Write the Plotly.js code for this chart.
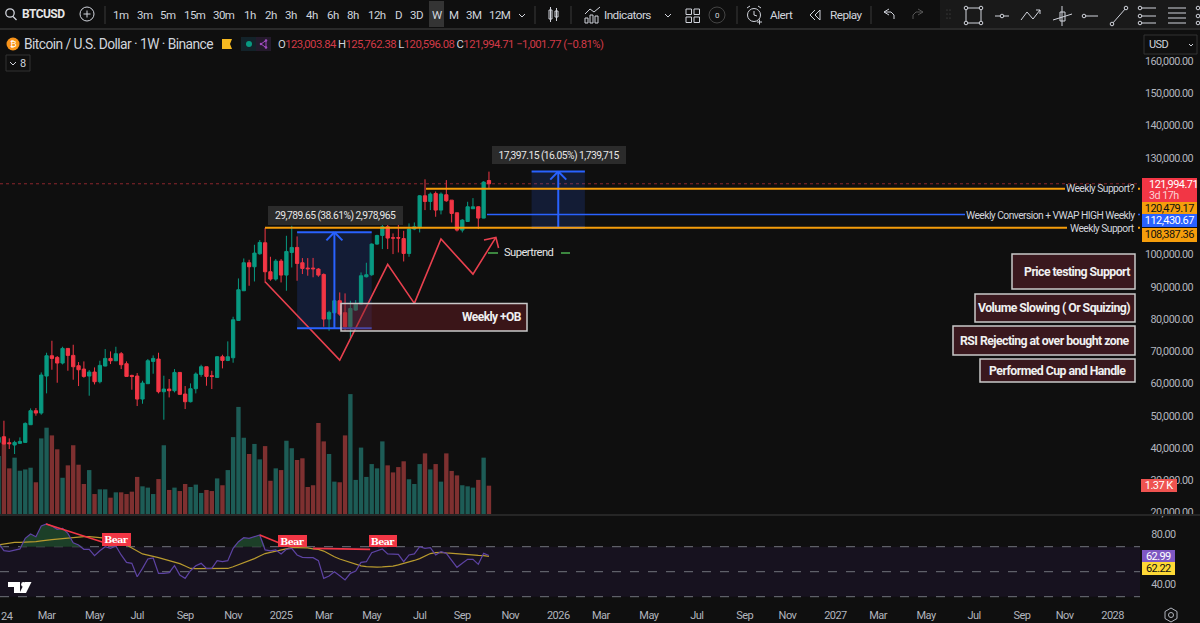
<!DOCTYPE html>
<html><head><meta charset="utf-8">
<script src="https://cdn.plot.ly/plotly-3.0.1.min.js"></script>
<style>html,body{margin:0;padding:0;background:#0f0f0f;overflow:hidden}#c{width:1200px;height:623px}text{letter-spacing:-.55px}</style>
</head><body><div id="c"></div><script>
const open_=[41800,43560,41700,40980,41500,41800,47280,51620,50900,62370,68670,68150,66400,70940,68780,65570,64540,62370,63610,60610,65470,67840,67120,69290,66190,62570,62370,55240,60000,66910,67640,57510,58340,57820,63500,56790,54410,58440,62880,65260,62470,61950,68360,67220,68050,79620,88820,97500,96260,100290,103700,94710,92440,98020,93680,100700,102250,97500,95850,95850,95540,93880,80040,82000,85720,82000,77660,82820,84690,93160,93780,103290,105970,108660,105250,105300,105000,100390,107940,108450,118270,116510,119000,113830,118580,116920,113000,107630,110300,114250,114860,111350,123003.84];
const high_=[43700,48520,43040,42320,43350,48000,52340,52450,63500,69600,73320,68570,71460,71000,72080,66710,66910,64230,65050,67120,70740,70010,71460,69810,66910,62780,63300,60920,67640,68770,69600,62470,61440,64540,63600,59270,60100,63500,65880,65300,64020,68500,68980,73120,80760,92640,98840,98430,103080,104530,108300,99360,98640,98640,105870,108970,105660,98950,98950,99000,95850,94200,82620,88300,88300,88000,85720,85930,94500,97500,103500,106180,111040,110000,106600,110000,107400,109700,110000,118500,123370,119300,119600,119300,123130,116900,113000,111040,116410,117550,115000,122800,125762.38];
const low_=[41300,41200,39740,38190,41400,41700,47200,50070,50380,57000,64330,60300,65980,64020,61230,59270,61850,56270,59780,60100,65400,66090,67000,64540,62200,58130,53070,53790,59900,63090,57000,48830,55750,57300,56600,52140,54200,57000,62160,59370,58340,61900,64740,67000,66500,79500,88800,90370,91700,100000,91400,91920,91920,91400,88820,96050,91920,94000,93470,93000,93160,77660,76420,81590,81070,76420,74150,82620,84480,92950,93470,103080,101740,101740,100190,100700,97900,99360,107600,106900,113830,113830,111760,112500,116400,110000,107200,106900,110300,114200,107940,111300,120596.08];
const close_=[43350,41290,41400,41800,42100,47690,51620,50900,62680,68670,67840,66400,70940,68780,65260,64330,62260,63610,60610,65680,67840,67120,69290,65880,62260,62260,55240,60200,67120,67840,57510,58340,57820,63500,56690,54410,58440,62990,65260,62260,62260,68360,67220,68360,79830,89130,97500,96260,100500,103800,94710,92440,98020,93680,101010,102250,97290,95740,95640,95640,93680,80040,82100,85720,81590,77660,83340,84690,93470,93780,103290,105970,108660,105150,105150,105150,100390,107940,108660,118270,116510,118790,113830,118790,116720,112790,107630,110730,114860,114860,111350,122510,121994.71];
const volumeK=[2.76,3.43,2.18,2.68,2.07,2.13,2.21,1.53,3.58,4.08,3.72,3.07,1.74,2.32,3.26,2.35,1.45,2.10,0.98,1.2,1.2,0.81,1.06,1.06,0.98,1.09,1.78,1.34,1.28,0.98,1.68,3.26,1.17,1.28,1.12,1.45,1.31,1.42,1.03,1.17,1.12,1.71,1.39,2.10,3.64,5.05,3.61,2.85,3.32,2.60,3.22,1.60,2.18,2.10,3.47,3.12,2.57,2.65,1.31,1.39,4.30,3.44,2.85,1.56,1.53,3.72,5.65,1.64,3.15,1.78,2.38,2.18,3.44,2.32,1.99,2.24,2.51,1.67,1.45,2.38,2.88,2.13,2.38,1.56,2.88,2.06,1.85,1.39,1.34,1.28,1.64,2.68,1.37];
const rsi=[72.7,66.8,66.3,67.4,68.2,76.7,80.2,78,86.6,88.2,86.6,83.9,84.7,80.7,73.2,71.4,67.9,67.9,62.8,66.8,70,68.7,70.6,63.4,57.5,56.7,46,52.7,60.2,61,48.7,48.7,49.2,54.8,47.4,44.7,50.8,54.8,56.7,52.7,52.7,58.8,58,58.8,68.7,74,77.2,76.7,78,79.4,67.4,66.6,67.4,64.2,67.9,68.7,63.4,61.5,61.2,61.2,58.8,44.7,46.6,50,46.8,43.4,48.7,50.6,57.5,58,65.2,66.6,68.2,64.2,64.2,63.9,58,63.4,64.2,70,68.7,69.2,63.4,66,64.7,59.4,53.5,56.7,59.9,59.9,55.9,64.7,62.99];
const rsiMA=[71.4,72,73,73.5,73.5,73.5,73.7,74,74.6,75.4,75.6,76,76.5,77,77.5,77.7,78,78,77.8,77.4,76.8,75.8,75,73.8,71.4,69,66.8,64.2,63.2,62.4,61.2,60,58.8,57.5,56.5,54.6,52.6,52.4,52.4,52.4,52.4,52.4,52.5,52.6,54,55.5,57.2,58.6,60.5,62.5,64.5,65.5,66.5,67.5,68.5,69.3,69.3,69.2,69,68.3,67.8,66.5,64,62,60.2,58.8,57,55.6,54.7,54,53.7,53.6,53.8,54,54.5,55.5,56.5,57.5,59,60.5,62.5,64.5,65.2,65.5,65,64.6,64,63.7,63.4,63.2,63,62.8,62.22];
const monthTicks=[9,18,26,35,44,53,61,70,79,87,96,105,113,122,131,140,148,157,165,174,183,192,200,209];
const monthLabels=["Mar","May","Jul","Sep","Nov","2025","Mar","May","Jul","Sep","Nov","2026","Mar","May","Jul","Sep","Nov","2027","Mar","May","Jul","Sep","Nov","2028"];
const priceTicks=[20000,30000,40000,50000,60000,70000,80000,90000,100000,130000,140000,150000,160000];
const rsiTicks=[40,80];
const zigzagBars=[50,64,73,78,83,89,93.3];
const zigzagPrices=[91610,67340,97000,84910,104850,93990,105370];
const arrowBars=[91.07,93.3,93.8];
const arrowPrices=[104560,105370,102060];
const level1=120479.17, level2=112430.67, level3=108387.36, lastPrice=121994.71;
const measureA=[56,70,77156,106946], measureB=[100,110,108387.36,125784.51];
const divergenceBars=[[8.9,19.6],[49,52.8],[59,69.7]];
const divergenceRsi=[[88.2,73.5],[79.4,72.7],[68.7,67.9]];

const W=1200,H=623,F='Roboto,"Liberation Sans",sans-serif';
const GREEN='#089981',RED='#f23645',BLUE='#2962ff',ORANGE='#f59d0b',UI='#d1d4dc',BG='#0f0f0f';
const X=p=>p/W, Y=p=>1-p/H;
const idx=close_.map((_,i)=>i);
const pxPerBar=5.33, barAt0=-1.4;
const xr=[(0-barAt0)/pxPerBar,(1140-barAt0)/pxPerBar];
const base=512.7,pp=32.25/10000;
const priceAt=y=>20000+(base-y)/pp;

const shapes=[],ann=[];
const pl=(pts,color,w,close,fill,extra)=>shapes.push(Object.assign({type:'path',xref:'paper',yref:'paper',layer:'above',
  path:'M'+pts.map(q=>X(q[0])+','+Y(q[1])).join(' L')+(close?' Z':''),line:{color,width:w},fillcolor:fill||'rgba(0,0,0,0)'},extra||{}));
const rc=(x0,y0,x1,y1,fill,line,w)=>shapes.push({type:'rect',xref:'paper',yref:'paper',layer:'above',x0:X(x0),x1:X(x1),y0:Y(y0),y1:Y(y1),fillcolor:fill||'rgba(0,0,0,0)',line:{color:line||'rgba(0,0,0,0)',width:w===undefined?1:w}});
const ci=(x,y,r,fill,line,w)=>shapes.push({type:'circle',xref:'paper',yref:'paper',layer:'above',x0:X(x-r),x1:X(x+r),y0:Y(y-r),y1:Y(y+r),fillcolor:fill||'rgba(0,0,0,0)',line:{color:line||'rgba(0,0,0,0)',width:w===undefined?1:w}});
const tx=(t,x,y,size,color,o)=>ann.push(Object.assign({text:t,xref:'paper',yref:'paper',x:X(x),y:Y(y),xanchor:'center',yanchor:'middle',showarrow:false,borderpad:0,font:{family:F,size:size||12,color:color||UI}},o||{}));
const box=(t,x0,y0,x1,y1,bg,color,size,o)=>ann.push(Object.assign({text:t,xref:'paper',yref:'paper',x:X(x0),y:Y(y0),xanchor:'left',yanchor:'top',width:x1-x0,height:y1-y0,showarrow:false,bgcolor:bg,align:'center',valign:'middle',borderpad:0,borderwidth:0,font:{family:F,size:size||12,color:color}},o||{}));
const dl=(x0,p0,x1,p1,color,w,dash,layer)=>shapes.push({type:'line',xref:'x',yref:'y2',x0,x1,y0:p0,y1:p1,layer:layer||'above',line:{color,width:w,dash:dash||'solid'}});
const rl=(v,color)=>shapes.push({type:'line',xref:'x domain',yref:'y3',x0:0,x1:1,y0:v,y1:v,layer:'below',line:{color,width:1,dash:'dash'}});

/* toolbar */
rc(940,0,1200,28,'#191919',null,0);
pl([[0,29],[1200,29]],'#2a2a2a',2);
ci(10,13,4.2,null,UI,1.3); pl([[13,16.5],[16.5,20]],UI,1.3);
tx('BTCUSD',21,14.5,12,UI,{xanchor:'left',font:{family:F,size:12,color:'#e6e6e6',weight:700}});
ci(87,14,7,null,UI,1); pl([[83.5,14],[90.5,14]],UI,1); pl([[87,10.5],[87,17.5]],UI,1);
[105,535,571,737,871].forEach(x=>pl([[x,6],[x,24]],'#3a3a3a',1));
rc(429,1,444,27,'#343434',null,0);
[['1m',121],['3m',145],['5m',168],['15m',195],['30m',224],['1h',250],['2h',271],['3h',291],['4h',312],['6h',333],['8h',353],['12h',377],['D',398],['3D',417],['W',437],['M',454],['3M',474],['12M',500]].forEach(a=>tx(a[0],a[1],15,11.5,UI));
[522,668].forEach(x=>pl([[x-3,14],[x,17],[x+3,14]],UI,1));
/* candle icon */
rc(549,10,552,19,null,UI,1);rc(555,11,558,17,null,UI,1);pl([[550.5,7],[550.5,22]],UI,1);pl([[556.5,8],[556.5,21]],UI,1);
/* indicators icon */
pl([[585,14],[590,9],[594,12],[600,7]],UI,1);[[585,18,3],[590,15,3],[595,16,3]].forEach(b=>rc(b[0],b[1],b[0]+b[2],23,null,UI,1));
tx('Indicators',603,15,11.8,UI,{xanchor:'left'});
[[686,9],[694,9],[686,17],[694,17]].forEach(b=>shapes.push({type:'rect',xref:'paper',yref:'paper',layer:'above',x0:X(b[0]),x1:X(b[0]+5.5),y0:Y(b[1]),y1:Y(b[1]+5.5),line:{color:UI,width:1}}));
ci(717,15,8,null,'#444',1);tx('0',717,15,8,UI);
ci(754,15,6.5,null,UI,1);pl([[754,11],[754,15],[757,16]],UI,1);pl([[747,8],[750,6]],UI,1);pl([[758,6],[761,8]],UI,1);pl([[757,22],[762,22]],UI,1);pl([[759.5,19.5],[759.5,24.5]],UI,1);
tx('Alert',769,15,11.8,UI,{xanchor:'left'});
pl([[815,10],[810,15],[815,20]],UI,1);pl([[820,10],[815,15],[820,20],[820,10]],UI,1);
tx('Replay',829,15,11.8,UI,{xanchor:'left'});
pl([[884,12],[889,9]],UI,1);pl([[884,12],[889,15]],UI,1);pl([[884,12],[891,12],[894,15],[894,19]],UI,1);
pl([[923,12],[918,9]],'#555',1);pl([[923,12],[918,15]],'#555',1);pl([[923,12],[916,12],[913,15],[913,19]],'#555',1);
[[947,10],[950,10],[947,14],[950,14],[947,18],[950,18]].forEach(b=>ci(b[0],b[1],.6,'#555'));
/* drawing tools */
rc(966,8,981,23,null,UI,1);[[966,8],[981,8],[966,23],[981,23]].forEach(b=>ci(b[0],b[1],1.8,'#191919',UI,1));
pl([[995,16],[1009,16]],UI,1);ci(1002,16,1.8,'#191919',UI,1);
pl([[1021,20],[1027,12],[1033,19],[1040,10]],UI,1);pl([[1036,10],[1040,10],[1040,14]],UI,1);
rc(1060,12,1065,21,null,UI,1);pl([[1062,6],[1062,26]],UI,1);pl([[1053,20],[1072,14]],UI,1);
pl([[1083,16],[1098,16]],UI,1);ci(1084,16,1.8,'#191919',UI,1);
pl([[1112,24],[1126,8]],UI,1);ci(1112,24,1.8,'#191919',UI,1);ci(1126,8,1.8,'#191919',UI,1);
[8,16,23].forEach(y=>{pl([[1140,y],[1156,y]],UI,1);ci(1140,y,1.8,'#191919',UI,1);});
[8,13,18,23].forEach(y=>pl([[1168,y],[1186,y]],UI,1));
[8,16,23].forEach(y=>ci(1198,y,1.8,'#191919',UI,1));

/* legend row */
ci(13,44,6.5,'#f7931a');tx('₿',13,44,9,'#fff');
tx('Bitcoin / U.S. Dollar · 1W · Binance',23,44.5,13.8,UI,{xanchor:'left'});
pl([[222,39],[232,39],[230,44],[232,49],[222,49]],'#f5b820',0,true,'#f5b820');
rc(241,37,271,51,'#13232a',null,0);rc(256,37,271,51,'#241a2c',null,0);
ci(249,44,3,'#089981');ci(261,44,1.3,'#a04bc0');ci(266,40.5,1.3,'#a04bc0');ci(266,47.5,1.3,'#a04bc0');pl([[261,44],[266,40.5],[266,47.5],[261,44]],'#a04bc0',1);
const rd=s=>'<span style="color:#d23a47">'+s+'</span>';
tx('O'+rd('123,003.84')+' H'+rd('125,762.38')+' L'+rd('120,596.08')+' C'+rd('121,994.71')+' '+rd('−1,001.77 (−0.81%)'),277,44.5,11.3,UI,{xanchor:'left'});
rc(6,55,30,71,null,'#333',1);pl([[10,62],[13,65],[16,62]],UI,1);tx('8',23,63,11,UI);
rc(1144,35,1197,54,null,'#333',1);tx('USD',1148,44.5,11,UI,{xanchor:'left'});pl([[1189,44],[1191,46],[1193,44]],UI,1);

/* measurement boxes */
const mbox=m=>{const c=(m[0]+m[1])/2;
 shapes.push({type:'rect',xref:'x',yref:'y2',layer:'below',x0:m[0],x1:m[1],y0:m[2],y1:m[3],fillcolor:'rgba(41,98,255,0.16)',line:{width:0}});
 dl(m[0],m[2],m[1],m[2],BLUE,2);dl(m[0],m[3],m[1],m[3],BLUE,2);dl(c,m[2],c,m[3],BLUE,2);
 dl(c-1.5,m[3]-2500,c,m[3],BLUE,2);dl(c+1.5,m[3]-2500,c,m[3],BLUE,2);};
mbox(measureA);mbox(measureB);
/* level lines */
const bx=p=>(p-barAt0)/pxPerBar;
shapes.push({type:'line',xref:'x domain',yref:'y2',x0:0,x1:1,y0:lastPrice,y1:lastPrice,layer:'below',line:{color:'rgba(242,54,69,.55)',width:1,dash:'dot'}});
[[level1,426,1065,ORANGE],[level2,487,965,BLUE],[level3,265,1067,ORANGE]].forEach(l=>{const w=l[3]===ORANGE?2:1.5;dl(bx(l[1]),l[0],bx(l[2]),l[0],l[3],w);dl(bx(1138),l[0],bx(1140),l[0],l[3],w);});
tx('Weekly Support?',1136,188.5,10.3,UI,{xanchor:'right'});
tx('Weekly Conversion + VWAP HIGH Weekly',1136,215,10.3,UI,{xanchor:'right'});
tx('Weekly Support',1136,228.5,10.3,UI,{xanchor:'right'});
/* measure labels */
box('29,789.65 (38.61%) 2,978,965',268,206,403,225,'#2b2b2b','#e6e6e6',10.3);
box('17,397.15 (16.05%) 1,739,715',492,146,626,164,'#2b2b2b','#e6e6e6',10.3);
/* +OB and notes */
const noteFill='rgba(118,30,38,0.42)',noteSolid='#3a181e',nb='#c9c9c9';
rc(341,303.5,527,331,noteFill,nb,1.5);
tx('Weekly +OB',523,317,12,'#f0f0f0',{xanchor:'right',font:{family:F,size:12,color:'#f0f0f0',weight:700}});
[['Price testing Support',1012,254,1135,289,1131],['Volume Slowing ( Or Squizing)',975,294,1135,322,1131],['RSI Rejecting at over bought zone',953,326,1135,355,1131],['Performed Cup and Handle',980,359,1135,382,1127]].forEach(n=>{
 rc(n[1],n[2],n[3],n[4],noteSolid,nb,1.5);
 tx(n[0],n[5],(n[2]+n[4])/2,12.3,'#f0f0f0',{xanchor:'right',font:{family:F,size:12.3,color:'#f0f0f0',weight:700}});});
/* supertrend */
pl([[488,253],[498,253]],'#4caf50',1.5);pl([[561,253],[570,253]],'#4caf50',1.5);
tx('Supertrend',503,253,11.2,'#e6e6e6',{xanchor:'left'});
/* pane separator + RSI band */
pl([[0,515],[1200,515]],'#262626',2);
shapes.push({type:'rect',xref:'x domain',yref:'y3',x0:0,x1:1,y0:30,y1:70,layer:'below',fillcolor:'#17121f',line:{width:0}});
rl(70,'#70737c');rl(50,'#70737c');rl(30,'#70737c');
/* value tags */
box('',1142,178,1197,201.5,RED,'#fff',11);
tx('121,994.71',1148,184.5,11,'#fff',{xanchor:'left'});
tx('3d 17h',1148,195,10.8,'#fbd0d4',{xanchor:'left'});
box('120,479.17',1142,201.5,1197,214.5,ORANGE,'#111',11);
box('112,430.67',1142,214.5,1197,227.5,BLUE,'#fff',11);
box('108,387.36',1142,227.5,1197,241,ORANGE,'#111',11);
box('1.37 K',1141,479,1177,492,'#ef5350','#fff',11);
box('62.99',1142,549.5,1175,562,'#7e57c2','#fff',11);
box('62.22',1142,562,1175,575,'#fdd835','#111',11);
/* Bear tags */
[[102,533,131,545.5],[278,535,307,547],[369,535,397,547]].forEach(b=>box('Bear',b[0],b[1],b[2],b[3],RED,'#fff',10.5,{font:{family:'"DejaVu Serif",serif',size:9.5,color:'#fff',weight:700}}));
/* TV logo */
pl([[8,582],[20,582],[20,593],[14,593],[14,587],[8,587]],'#fff',0,true,'#fff');ci(23.5,584.5,2.4,'#fff');
pl([[31.5,582],[26,593],[19.5,593],[25,582]],'#fff',0,true,'#fff');
/* gear */
pl([[1171,608],[1177,611.5],[1177,618.5],[1171,622],[1165,618.5],[1165,611.5]],'#b2b5be',1,true);ci(1171,615,2.5,null,'#b2b5be',1);
tx('24',0,616,11,'#b2b5be',{xanchor:'left'});

const traces=[
 {type:'bar',x:idx,y:volumeK,xaxis:'x',yaxis:'y',marker:{color:idx.map(i=>close_[i]>=open_[i]?'#1d5c56':'#7e3030'),line:{width:0}},width:0.82,hoverinfo:'skip',showlegend:false},
 {type:'candlestick',x:idx,open:open_,high:high_,low:low_,close:close_,xaxis:'x',yaxis:'y2',whiskerwidth:0,
  increasing:{line:{color:GREEN,width:1},fillcolor:GREEN},decreasing:{line:{color:RED,width:1},fillcolor:RED},hoverinfo:'skip',showlegend:false},
 {type:'scatter',mode:'lines',x:zigzagBars,y:zigzagPrices,xaxis:'x',yaxis:'y2',line:{color:'#e8404e',width:1.6},hoverinfo:'skip',showlegend:false},
 {type:'scatter',mode:'lines',x:arrowBars,y:arrowPrices,xaxis:'x',yaxis:'y2',line:{color:'#e8404e',width:1.6},hoverinfo:'skip',showlegend:false},
 {type:'scatter',mode:'lines',x:idx,y:idx.map(()=>70),xaxis:'x',yaxis:'y3',line:{width:0},hoverinfo:'skip',showlegend:false},
 {type:'scatter',mode:'lines',x:idx,y:rsi.map(v=>Math.max(v,70)),xaxis:'x',yaxis:'y3',line:{width:0},fill:'tonexty',fillcolor:'#1c3f28',hoverinfo:'skip',showlegend:false},
 {type:'scatter',mode:'lines',x:idx,y:rsiMA,xaxis:'x',yaxis:'y3',line:{color:'#b89a2e',width:1.2},hoverinfo:'skip',showlegend:false},
 {type:'scatter',mode:'lines',x:idx,y:rsi,xaxis:'x',yaxis:'y3',line:{color:'#5d43a3',width:1.2},hoverinfo:'skip',showlegend:false}
];
divergenceBars.forEach((d,k)=>traces.push({type:'scatter',mode:'lines',x:d,y:divergenceRsi[k],xaxis:'x',yaxis:'y3',line:{color:RED,width:1.6},hoverinfo:'skip',showlegend:false}));

const dom=(top,bot)=>[1-bot/H,1-top/H];
const pd=dom(30,515);
const layout={width:W,height:H,margin:{l:0,r:0,t:0,b:0,pad:0},paper_bgcolor:BG,plot_bgcolor:'rgba(0,0,0,0)',showlegend:false,dragmode:false,hovermode:false,boxgap:0.12,
 font:{family:F,color:'#b2b5be'},
 xaxis:{domain:[0,1140/W],range:xr,anchor:'y3',showgrid:false,zeroline:false,showline:false,ticks:'outside',ticklen:3,tickcolor:'rgba(0,0,0,0)',tickmode:'array',tickvals:monthTicks,ticktext:monthLabels,tickfont:{family:F,size:11,color:'#b2b5be'},rangeslider:{visible:false}},
 yaxis:{domain:pd,range:[0,485/21.4],showgrid:false,zeroline:false,visible:false,fixedrange:true},
 yaxis2:{overlaying:'y',side:'left',anchor:'free',position:1193/W,range:[priceAt(515),priceAt(30)],showgrid:false,zeroline:false,showline:false,ticks:'',tickmode:'array',tickvals:priceTicks,tickformat:',.2f',tickfont:{family:F,size:10.8,color:'#b2b5be'},automargin:false},
 yaxis3:{domain:dom(516,602),side:'right',anchor:'x',range:[50-(602-571.7)/1.25,50+(571.7-516)/1.25],showgrid:false,zeroline:false,showline:false,ticks:'outside',ticklen:8,tickcolor:'rgba(0,0,0,0)',tickmode:'array',tickvals:rsiTicks,tickformat:'.2f',tickfont:{family:F,size:10.8,color:'#b2b5be'}},
 shapes,annotations:ann};
Plotly.newPlot('c',traces,layout,{staticPlot:true,displayModeBar:false,responsive:false});
</script></body></html>
